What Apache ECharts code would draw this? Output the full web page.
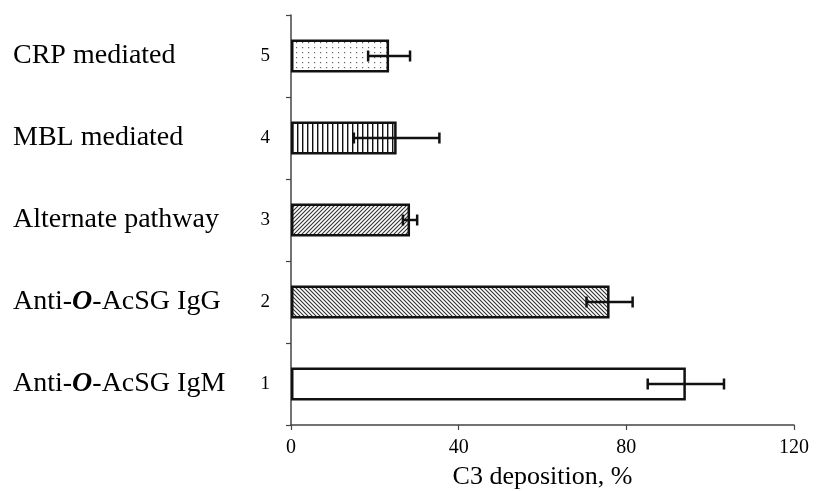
<!DOCTYPE html>
<html>
<head>
<meta charset="utf-8">
<script src="https://cdn.jsdelivr.net/npm/echarts@6/dist/echarts.min.js"></script>
<style>
  html, body { margin: 0; padding: 0; background: #fff; }
  #main { width: 834px; height: 491px; }
</style>
</head>
<body>
<div id="main"></div>
<script>
  // data, bottom to top
  var categories = ['1', '2', '3', '4', '5'];
  var names = ['Anti-O-AcSG IgM', 'Anti-O-AcSG IgG', 'Alternate pathway', 'MBL mediated', 'CRP mediated'];
  var deposition = [94.2, 76.0, 28.4, 25.2, 23.4];
  var errors = [9.1, 5.5, 1.7, 10.2, 5.0];
  var xTicks = [0, 40, 80, 120];

  // fill patterns drawn on small canvases
  function pattern(kind) {
    var c = document.createElement('canvas');
    var ctx = c.getContext('2d');
    if (kind === 'dots') {
      c.width = 6; c.height = 5;
      ctx.fillStyle = '#fff'; ctx.fillRect(0, 0, 6, 5);
      ctx.fillStyle = '#666'; ctx.fillRect(2, 2, 1.2, 1.2);
    } else if (kind === 'vert') {
      c.width = 5; c.height = 5;
      ctx.fillStyle = '#fff'; ctx.fillRect(0, 0, 5, 5);
      ctx.fillStyle = '#111'; ctx.fillRect(2, 0, 1.4, 5);
    } else if (kind === 'fwd' || kind === 'back') {
      c.width = 4; c.height = 4;
      ctx.fillStyle = '#fff'; ctx.fillRect(0, 0, 4, 4);
      ctx.strokeStyle = '#333'; ctx.lineWidth = 1.1;
      ctx.beginPath();
      if (kind === 'fwd') {
        ctx.moveTo(-1, 5); ctx.lineTo(5, -1);
        ctx.moveTo(-1, 1); ctx.lineTo(1, -1);
        ctx.moveTo(3, 5); ctx.lineTo(5, 3);
      } else {
        ctx.moveTo(-1, -1); ctx.lineTo(5, 5);
        ctx.moveTo(3, -1); ctx.lineTo(5, 1);
        ctx.moveTo(-1, 3); ctx.lineTo(1, 5);
      }
      ctx.stroke();
    } else {
      return '#fff';
    }
    return { image: c, repeat: 'repeat' };
  }
  var fills = ['plain', 'back', 'fwd', 'vert', 'dots'];

  var barData = deposition.map(function (v, i) {
    return { value: v, itemStyle: { color: pattern(fills[i]) } };
  });
  var errData = deposition.map(function (v, i) {
    return [v - errors[i], v + errors[i], i];
  });

  var serif = '"Liberation Serif", "Times New Roman", serif';
  var myChart = echarts.init(document.getElementById('main'));
  myChart.setOption({
    animation: false,
    grid: { left: 291, right: 40, top: 15, bottom: 66, outerBoundsMode: 'none' },
    xAxis: {
      type: 'value',
      min: 0, max: 120, interval: 40,
      name: 'C3 deposition, %',
      nameLocation: 'middle',
      nameGap: 39,
      nameTextStyle: { fontFamily: serif, fontSize: 26, color: '#000' },
      axisLine: { show: true, lineStyle: { color: '#444', width: 1.5 } },
      axisTick: { show: true, length: 5, lineStyle: { color: '#444', width: 1.2 } },
      axisLabel: {
        fontFamily: serif, fontSize: 20, color: '#000', margin: 13,
        formatter: function (v) { return xTicks.indexOf(v) >= 0 ? String(v) : ''; }
      },
      splitLine: { show: false }
    },
    yAxis: [
      {
        type: 'category',
        data: categories,
        axisLine: { show: true, lineStyle: { color: '#444', width: 1.5 } },
        axisTick: { show: true, length: 5, lineStyle: { color: '#444', width: 1.2 } },
        axisLabel: { fontFamily: serif, fontSize: 19, color: '#000', margin: 21 }
      },
      {
        type: 'category',
        position: 'left',
        data: names,
        axisLine: { show: false },
        axisTick: { show: false },
        axisLabel: {
          fontFamily: serif, fontSize: 28, color: '#000', margin: 278, align: 'left',
          formatter: function (v) { return v.replace('-O-', '-{o|O}-'); },
          rich: {
            o: { fontFamily: serif, fontSize: 28, fontStyle: 'italic', fontWeight: 'bold', color: '#000' }
          }
        }
      }
    ],
    series: [
      {
        type: 'bar',
        yAxisIndex: 0,
        barWidth: 33,
        data: barData,
        itemStyle: { borderColor: '#111', borderWidth: 2.5 }
      },
      {
        type: 'custom',
        yAxisIndex: 0,
        encode: { x: [0, 1], y: 2 },
        data: errData,
        renderItem: function (params, api) {
          var lo = api.coord([api.value(0), api.value(2)]);
          var hi = api.coord([api.value(1), api.value(2)]);
          var h = 5.5;
          var style = { stroke: '#111', lineWidth: 2.5 };
          return {
            type: 'group',
            children: [
              { type: 'line', shape: { x1: lo[0], y1: lo[1], x2: hi[0], y2: hi[1] }, style: style },
              { type: 'line', shape: { x1: lo[0], y1: lo[1] - h, x2: lo[0], y2: lo[1] + h }, style: style },
              { type: 'line', shape: { x1: hi[0], y1: hi[1] - h, x2: hi[0], y2: hi[1] + h }, style: style }
            ]
          };
        },
        z: 5
      }
    ]
  });
</script>
</body>
</html>
